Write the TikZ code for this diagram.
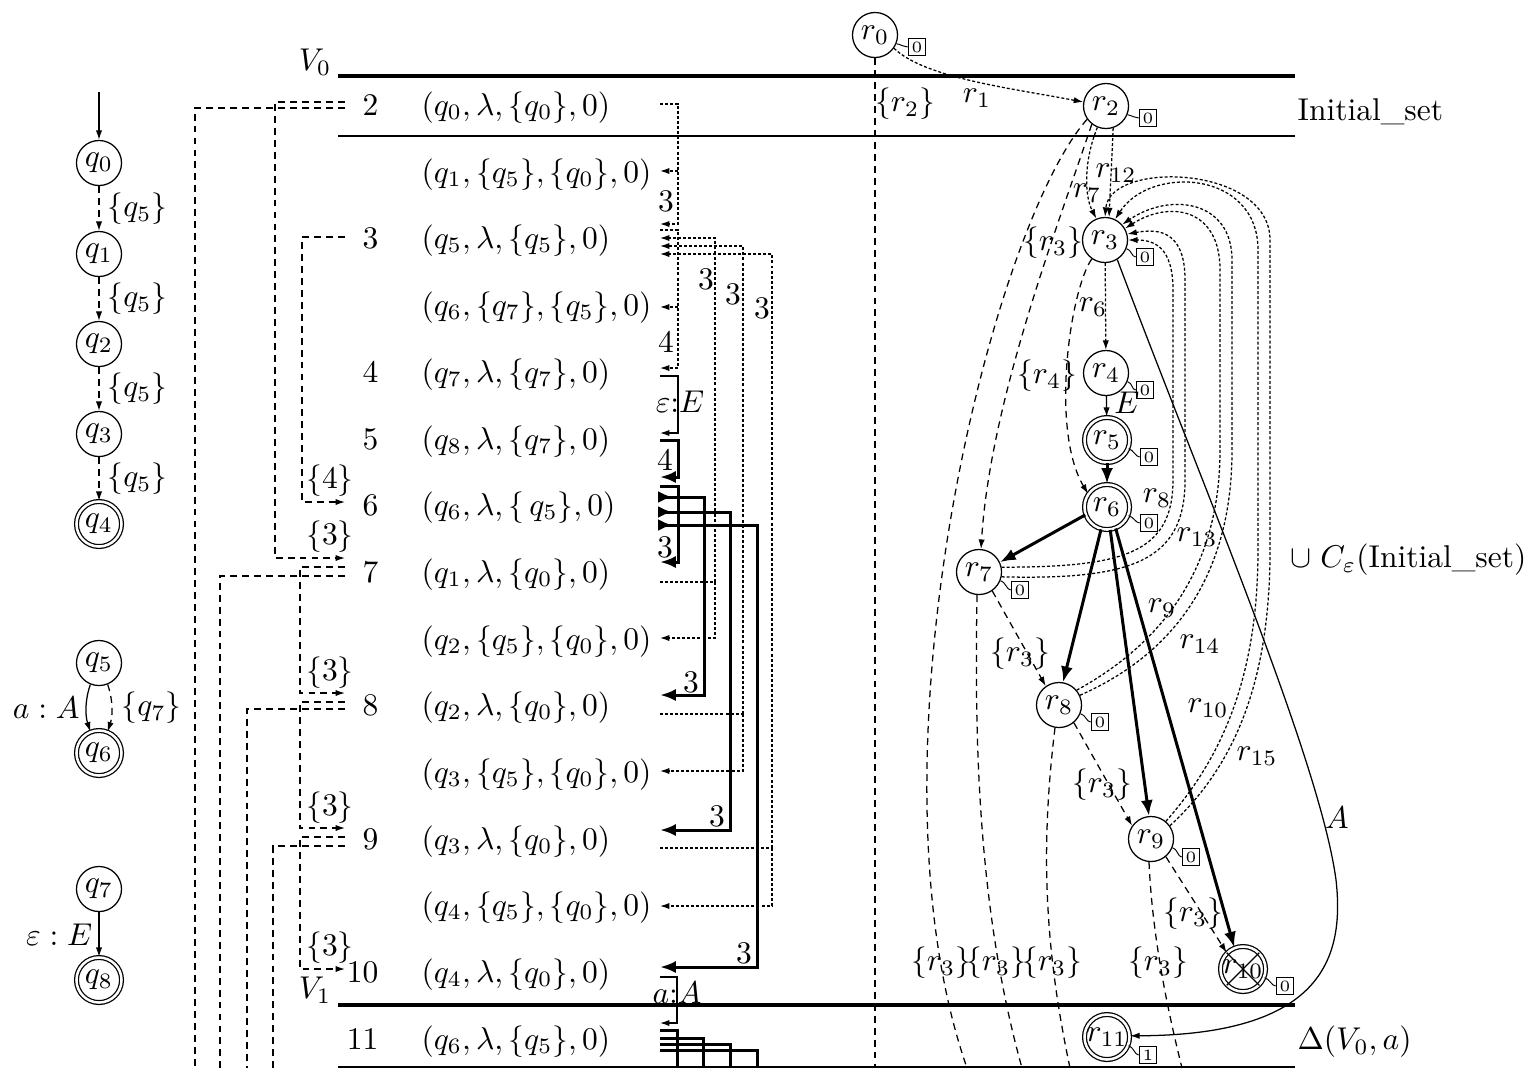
\documentclass[tikz,border=0pt]{standalone}
\usetikzlibrary{arrows.meta,calc}
\begin{document}
\begin{tikzpicture}[x=0.3175pt,y=-0.3175pt,
  >={Latex[length=3pt,width=2pt]},
  st/.style={circle,draw,minimum size=14.3pt,inner sep=0pt},
  acc/.style={st,double,double distance=0.8pt},
  tag/.style={draw,inner sep=1.1pt,font=\fontsize{5}{6}\selectfont,line width=0.3pt},
  dsh/.style={dash pattern=on 2.2pt off 1.6pt},
  dtt/.style={dash pattern=on 0.95pt off 0.65pt},
  thk/.style={line width=0.95pt},
  thkar/.style={thk,-{Latex[length=5pt,width=3.8pt]}},
  rthkar/.style={thk,{Latex[reversed,length=4.5pt,width=3.8pt]}-{Latex[length=5pt,width=3.8pt]}},
  num/.style={anchor=base east,inner sep=0pt},
  tup/.style={anchor=base west,inner sep=0pt},
  lb/.style={inner sep=0pt},
]
\useasboundingbox (0,0) rectangle (1528,1068);

% ---------- left automaton ----------
\node[st] (q0) at (99,163) {$q_0$};
\node[st] (q1) at (99,254) {$q_1$};
\node[st] (q2) at (99,344) {$q_2$};
\node[st] (q3) at (99,434) {$q_3$};
\node[acc] (q4) at (99,524) {$q_4$};
\coordinate (qi) at (99,92);
\draw[->] (qi) -- (q0);
\draw[dsh,->] (q0) -- node[right=2.5pt,lb] {$\{q_5\}$} (q1);
\draw[dsh,->] (q1) -- node[right=2.5pt,lb] {$\{q_5\}$} (q2);
\draw[dsh,->] (q2) -- node[right=2.5pt,lb] {$\{q_5\}$} (q3);
\draw[dsh,->] (q3) -- node[right=2.5pt,lb] {$\{q_5\}$} (q4);

\node[st] (q5) at (99,663) {$q_5$};
\node[acc] (q6) at (99,753) {$q_6$};
\draw[->] (q5.-112) .. controls (85,700) and (85,715) .. node[left=2pt,lb] {$a:A$} (q6.112);
\draw[dsh,->] (q5.-68) .. controls (113,700) and (113,715) .. node[right=3pt,lb] {$\{q_7\}$} (q6.68);

\node[st] (q7) at (99,889) {$q_7$};
\node[acc] (q8) at (99,980) {$q_8$};
\draw[->] (q7) -- node[left=2pt,lb] {$\varepsilon : E$} (q8);

% ---------- horizontal rules ----------
\coordinate (h0a) at (338,76);   \coordinate (h0b) at (1295,76);
\coordinate (h1a) at (338,136);  \coordinate (h1b) at (1295,136);
\coordinate (h2a) at (338,1005); \coordinate (h2b) at (1295,1005);
\coordinate (h3a) at (338,1067); \coordinate (h3b) at (1295,1067);
\draw[line width=1.1pt] (h0a) -- (h0b);
\draw[line width=0.5pt] (h1a) -- (h1b);
\draw[line width=1.1pt] (h2a) -- (h2b);
\draw[line width=0.5pt] (h3a) -- (h3b);
\node[anchor=south east,inner sep=0pt] (V0) at (332,76) {$V_0$};
\node[anchor=south east,inner sep=0pt] (V1) at (332,1004) {$V_1$};

% ---------- list ----------
\node[num] (n2) at (379,115) {2};
\node[num] (n3) at (379,248) {3};
\node[num] (n4) at (379,382) {4};
\node[num] (n5) at (379,449) {5};
\node[num] (n6) at (379,515) {6};
\node[num] (n7) at (379,582) {7};
\node[num] (n8) at (379,715) {8};
\node[num] (n9) at (379,849) {9};
\node[num] (n10) at (379,982) {10};
\node[num] (n11) at (379,1049) {11};

\node[tup] (t0) at (421,115) {$(q_0, \lambda, \{q_0\}, 0)$};
\node[tup] (t1) at (421,182) {$(q_1, \{q_5\}, \{q_0\}, 0)$};
\node[tup] (t2) at (421,248) {$(q_5, \lambda, \{q_5\}, 0)$};
\node[tup] (t3) at (421,315) {$(q_6, \{q_7\}, \{q_5\}, 0)$};
\node[tup] (t4) at (421,382) {$(q_7, \lambda, \{q_7\}, 0)$};
\node[tup] (t5) at (421,449) {$(q_8, \lambda, \{q_7\}, 0)$};
\node[tup] (t6) at (421,515) {$(q_6, \lambda, \{\,q_5\}, 0)$};
\node[tup] (t7) at (421,582) {$(q_1, \lambda, \{q_0\}, 0)$};
\node[tup] (t8) at (421,649) {$(q_2, \{q_5\}, \{q_0\}, 0)$};
\node[tup] (t9) at (421,715) {$(q_2, \lambda, \{q_0\}, 0)$};
\node[tup] (t10) at (421,782) {$(q_3, \{q_5\}, \{q_0\}, 0)$};
\node[tup] (t11) at (421,849) {$(q_3, \lambda, \{q_0\}, 0)$};
\node[tup] (t12) at (421,915) {$(q_4, \{q_5\}, \{q_0\}, 0)$};
\node[tup] (t13) at (421,982) {$(q_4, \lambda, \{q_0\}, 0)$};
\node[tup] (t14) at (421,1049) {$(q_6, \lambda, \{q_5\}, 0)$};

% left dashed connectors
\draw[dsh,->] (345,102) -| (275,558) -- (345,558);
\draw[dsh] (345,108) -| (195,1068);
\draw[dsh,->] (345,237) -| (302,502) -- (345,502);
\draw[dsh,->] (345,567) -| (300,693) -- (345,693);
\draw[dsh] (345,576) -| (220,1068);
\draw[dsh,->] (345,702) -| (300,828) -- (345,828);
\draw[dsh] (345,709) -| (247,1068);
\draw[dsh,->] (345,837) -| (300,969) -- (345,969);
\draw[dsh] (345,846) -| (273,1068);
\node[lb] (la1) at (330,481) {$\{4\}$};
\node[lb] (la2) at (330,537) {$\{3\}$};
\node[lb] (la3) at (330,673) {$\{3\}$};
\node[lb] (la4) at (330,808) {$\{3\}$};
\node[lb] (la5) at (330,948) {$\{3\}$};

% right dotted / solid connectors
\draw[dtt,->] (660,104) -| (678,224) -- (660,224);
\draw[dtt,->] (678,171) -- (660,171);
\node[lb] (lb1) at (666,201) {3};
\draw[dtt,->] (660,230) -| (678,368) -- (660,368);
\draw[dtt,->] (678,307) -- (660,307);
\node[lb] (lb2) at (666,342) {4};
\draw[->] (660,376) -| (678,433) -- (660,433);
\node[lb] (lb3) at (680,402) {$\varepsilon{:}E$};
\draw[thkar] (660,440) -| (678,477) -- (660,477);
\node[lb] (lb4) at (665,460) {4};
\draw[thkar] (660,486) -| (678,562) -- (660,562);
\node[lb] (lb5) at (665,547) {3};
\draw[rthkar] (658,497) -| (704,695) -- (660,695);
\node[lb] (lb6) at (691,682) {3};
\draw[rthkar] (658,512) -| (730,830) -- (660,830);
\node[lb] (lb7) at (717,816) {3};
\draw[rthkar] (658,525) -| (757,967) -- (660,967);
\node[lb] (lb8) at (744,953) {3};

\draw[dtt] (660,582) -- (715,582);
\draw[dtt,->] (715,582) |- (660,238);
\draw[dtt,->] (715,582) |- (660,638);
\node[lb] (lb9) at (706,279) {3};
\draw[dtt] (660,714) -- (743,714);
\draw[dtt,->] (743,714) |- (660,246);
\draw[dtt,->] (743,714) |- (660,771);
\node[lb] (lb10) at (733,294) {3};
\draw[dtt] (660,848) -- (772,848);
\draw[dtt,->] (772,848) |- (660,254);
\draw[dtt,->] (772,848) |- (660,906);
\node[lb] (lb11) at (762,308) {3};

\draw[->] (660,977) -| (677,1023) -- (660,1023);
\node[lb] (lb12) at (677,993) {$a{:}A$};
\draw[thk] (660,1030) -| (677,1068);
\draw[thk] (660,1038) -| (703,1068);
\draw[thk] (660,1044) -| (730,1068);
\draw[thk] (660,1050) -| (757,1068);

% ---------- right graph ----------
\node[st] (r0) at (875,35) {$r_0$};
\node[st] (r2) at (1106,106) {$r_2$};
\node[st] (r3) at (1105,240) {$r_3$};
\node[st] (r4) at (1106,373) {$r_4$};
\node[acc] (r5) at (1107,440) {$r_5$};
\node[acc] (r6) at (1107,507) {$r_6$};
\node[st] (r7) at (979,572) {$r_7$};
\node[st] (r8) at (1059,705) {$r_8$};
\node[st] (r9) at (1151,839) {$r_9$};
\node[acc] (r10) at (1243,969) {$r_{10}$};
\node[acc] (r11) at (1107,1037) {$r_{11}$};
\draw (r10.45) -- (r10.225);
\draw (r10.135) -- (r10.-45);

\foreach \n/\dx/\dy/\v in {r0/42/12/0, r2/42/12/0, r3/40/17/0, r4/39/17/0, r5/42/17/0, r6/42/16/0, r7/41/18/0, r8/41/17/0, r9/40/18/0, r10/42/17/0, r11/41/18/1}{
  \node[tag] (tg\n) at ($(\n)+(\dx,\dy)$) {\v};
  \draw[line width=0.3pt] (\n.-22) .. controls +(5,1) and +(-4,0) .. (tg\n.west);
}

\coordinate (b0) at (875,1068);
\coordinate (bA) at (967,1068);
\coordinate (b7) at (1022,1068);
\coordinate (b8) at (1070,1068);
\coordinate (b9) at (1182,1068);
\draw[dsh] (r0.south) -- (b0);

\draw[dtt,->] (r0.-35) .. controls (925,78) and (1010,88) .. (r2.170);
\draw[dtt,->] (r2.-112) .. controls (1084,160) and (1084,195) .. (r3.112);
\draw[dtt,->] (r2.-72) -- (r3.80);
\draw[dsh] (r2.-145) .. controls (990,230) and (860,760) .. (bA);
\draw[dsh,->] (r2.-128) .. controls (1060,220) and (990,400) .. (r7.85);
\draw[dsh,->] (r3.-125) .. controls (1070,290) and (1050,430) .. (r6.145);
\draw[dtt,->] (r3) -- (r4);
\draw[->] (r4) -- (r5);
\draw[thkar] (r5) -- (r6);
\draw[thkar] (r6.200) -- (r7.25);
\draw[thkar] (r6.-105) -- (r8.80);
\draw[thkar] (r6.-82) -- (r9.95);
\draw[thkar] (r6.-68) -- (r10.112);
\draw[dsh,->] (r7.-55) -- (r8.125);
\draw[dsh,->] (r8.-50) -- (r9.145);
\draw[dsh,->] (r9.-50) -- (r10.135);
\draw[dsh] (r7.-95) .. controls (975,720) and (975,900) .. (b7);
\draw[dsh] (r8.-100) .. controls (1040,850) and (1045,950) .. (b8);
\draw[dsh] (r9.-95) .. controls (1152,930) and (1165,1000) .. (b9);
\draw[->] (r3.-58) .. controls (1200,480) and (1320,760) .. (1336,880) .. controls (1345,960) and (1320,1035) .. (r11.3);

\draw[dtt,->] (r7.12) .. controls (1120,567) and (1173,555) .. (1173,480) -- (1173,290) .. controls (1173,248) and (1155,240) .. (r3.0);
\draw[dtt,->] (r7.-12) .. controls (1130,580) and (1185,562) .. (1185,480) -- (1185,280) .. controls (1185,232) and (1160,228) .. (r3.15);
\draw[dtt,->] (r8.40) .. controls (1150,650) and (1220,580) .. (1220,450) -- (1220,270) .. controls (1220,208) and (1170,200) .. (r3.30);
\draw[dtt,->] (r8.25) .. controls (1160,660) and (1232,590) .. (1232,450) -- (1232,260) .. controls (1232,200) and (1170,192) .. (r3.42);
\draw[dtt,->] (r9.50) .. controls (1220,760) and (1258,680) .. (1258,550) -- (1258,250) .. controls (1258,170) and (1150,165) .. (r3.64);
\draw[dtt,->] (r9.35) .. controls (1230,770) and (1270,690) .. (1270,550) -- (1270,240) .. controls (1270,165) and (1110,160) .. (r3.90);

\node[lb] (g1) at (977,98) {$r_1$};
\node[lb] (g2) at (905,104) {$\{r_2\}$};
\node[lb] (g3) at (1116,173) {$r_{12}$};
\node[lb] (g4) at (1087,193) {$r_7$};
\node[lb] (g5) at (1053,243) {$\{r_3\}$};
\node[lb] (g6) at (1093,307) {$r_6$};
\node[lb] (g7) at (1047,376) {$\{r_4\}$};
\node[lb] (g8) at (1127,403) {$E$};
\node[lb] (g9) at (1157,498) {$r_8$};
\node[lb] (g10) at (1197,537) {$r_{13}$};
\node[lb] (g11) at (1162,608) {$r_9$};
\node[lb] (g12) at (1200,644) {$r_{14}$};
\node[lb] (g13) at (1020,654) {$\{r_3\}$};
\node[lb] (g14) at (1208,708) {$r_{10}$};
\node[lb] (g15) at (1257,756) {$r_{15}$};
\node[lb] (g16) at (1102,785) {$\{r_3\}$};
\node[lb] (g17) at (1193,914) {$\{r_3\}$};
\node[lb] (g18) at (941,963) {$\{r_3\}$};
\node[lb] (g19) at (996,963) {$\{r_3\}$};
\node[lb] (g20) at (1052,963) {$\{r_3\}$};
\node[lb] (g21) at (1158,963) {$\{r_3\}$};
\node[lb] (g22) at (1337,818) {$A$};

% right-hand labels
\node[anchor=west,inner sep=0pt] (s1) at (1297,112) {Initial\_set};
\node[anchor=west,inner sep=0pt] (s2) at (1290,560) {$\cup\;C_\varepsilon$(Initial\_set)};
\node[anchor=west,inner sep=0pt] (s3) at (1297,1042) {$\Delta(V_0, a)$};
\end{tikzpicture}
\end{document}
